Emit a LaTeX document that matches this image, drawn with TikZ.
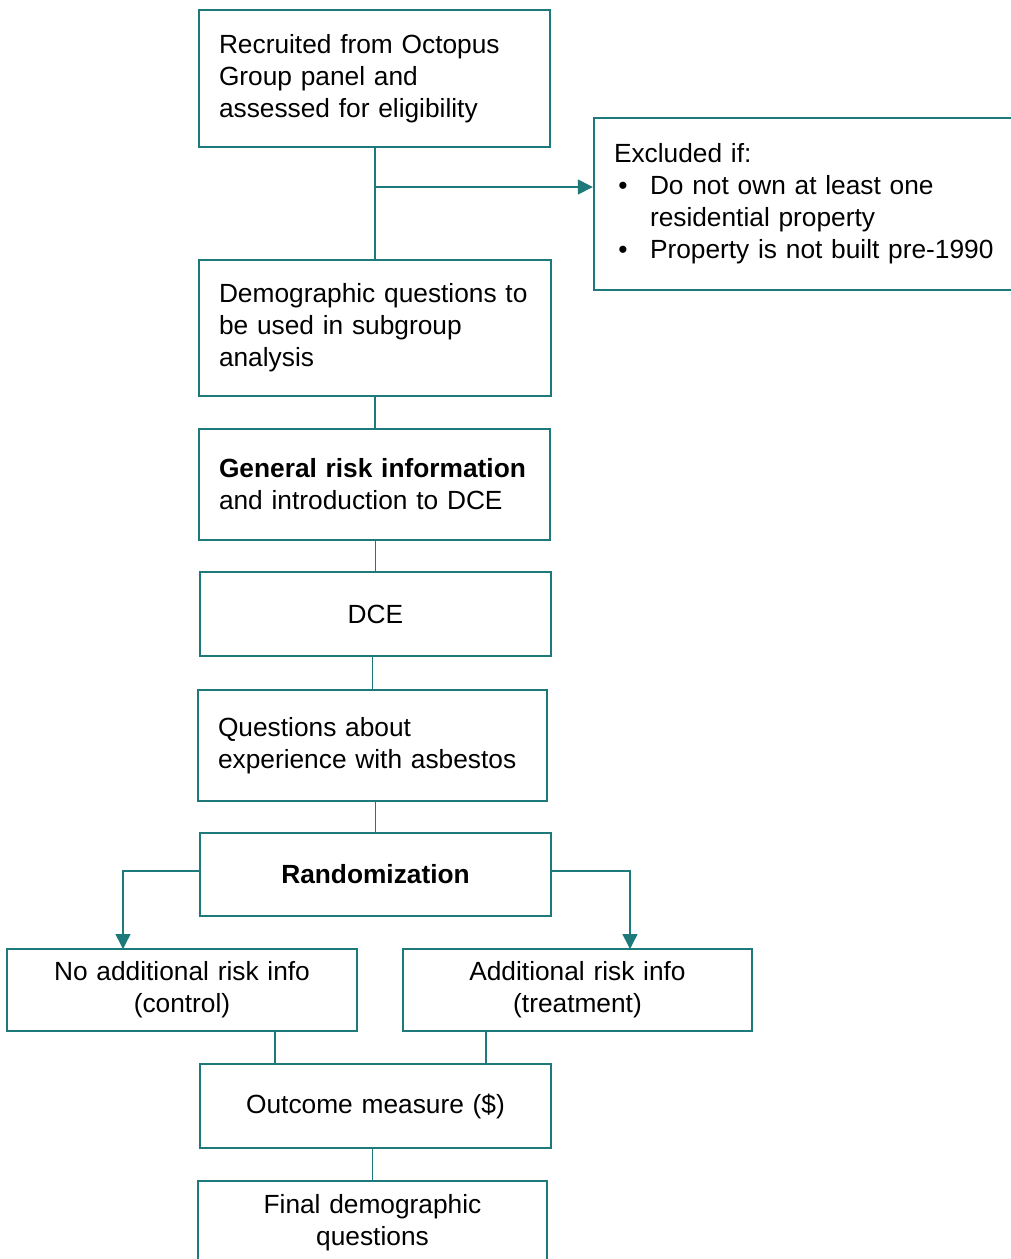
\documentclass[tikz,border=0pt]{standalone}
\usepackage{fontspec}
\setmainfont{Liberation Sans}
\usetikzlibrary{positioning,arrows.meta}
\definecolor{teal1}{RGB}{30,122,122}

\begin{document}
\begin{tikzpicture}[x=1pt, y=-1pt,
	box/.style={draw=teal1, line width=2.4pt, fill=white, inner xsep=20pt, inner ysep=0pt,
		font=\fontsize{26.3}{32}\selectfont},
	lbox/.style={box, align=left},
	cbox/.style={box, align=center},
	arr/.style={draw=teal1, line width=1.4pt, -{Triangle[length=15pt,width=15pt]}},
	ln/.style={draw=teal1, line width=1.4pt}]
\useasboundingbox (0,0) rectangle (1011,1259);
\node[lbox, text width=311pt, minimum height=137pt] (1) at (374.5, 78.5) {Recruited from Octopus\\Group panel and\\assessed for eligibility};
\node[lbox, text width=386pt, minimum height=172pt] (2) at (807, 204) {Excluded if:\\\makebox[36pt][l]{\,\textbullet}Do not own at least one\\\hspace*{36pt}residential property\\\makebox[36pt][l]{\,\textbullet}Property is not built pre-1990};
\node[lbox, text width=312pt, minimum height=136pt] (3) at (375, 328) {Demographic questions to\\be used in subgroup\\analysis};
\node[lbox, text width=311pt, minimum height=111pt] (4) at (374.5, 484.5) {\textbf{General risk information}\\and introduction to DCE};
\node[cbox, text width=311pt, minimum height=84pt] (5) at (375.5, 614) {DCE};
\node[lbox, text width=309pt, minimum height=111pt] (6) at (372.5, 745.5) {Questions about\\experience with asbestos};
\node[cbox, text width=311pt, minimum height=83pt] (7) at (375.5, 874.5) {\textbf{Randomization}};
\node[cbox, text width=310pt, minimum height=82pt] (8) at (182, 990) {No additional risk info\\(control)};
\node[cbox, text width=309pt, minimum height=82pt] (9) at (577.5, 990) {Additional risk info\\(treatment)};
\node[cbox, text width=311pt, minimum height=84pt] (10) at (375.5, 1106) {Outcome measure (\$)};
\node[cbox, text width=309pt, minimum height=84pt] (11) at (372.5, 1223) {Final demographic\\questions};
\coordinate (b) at (375, 187);
\coordinate (l) at (123, 949);
\coordinate (r) at (630, 949);
\draw[ln] (3.north |- 1.south) -- (3.north);
\draw[arr] (b) -- (b -| 2.west);
\draw[ln] (3.south) -- (3.south |- 4.north);
\draw[ln] (5.north) -- (5.north |- 4.south);
\draw[ln] (6.north |- 5.south) -- (6.north);
\draw[ln] (7.north) -- (7.north |- 6.south);
\draw[arr] ([yshift=3.5pt]7.west) -| (l);
\draw[arr] ([yshift=3.5pt]7.east) -| (r);
\draw[ln] ([xshift=93pt]8.south) -- ([xshift=93pt]8.south |- 10.north);
\draw[ln] ([xshift=-91.5pt]9.south) -- ([xshift=-91.5pt]9.south |- 10.north);
\draw[ln] (11.north |- 10.south) -- (11.north);
\end{tikzpicture}
\end{document}
